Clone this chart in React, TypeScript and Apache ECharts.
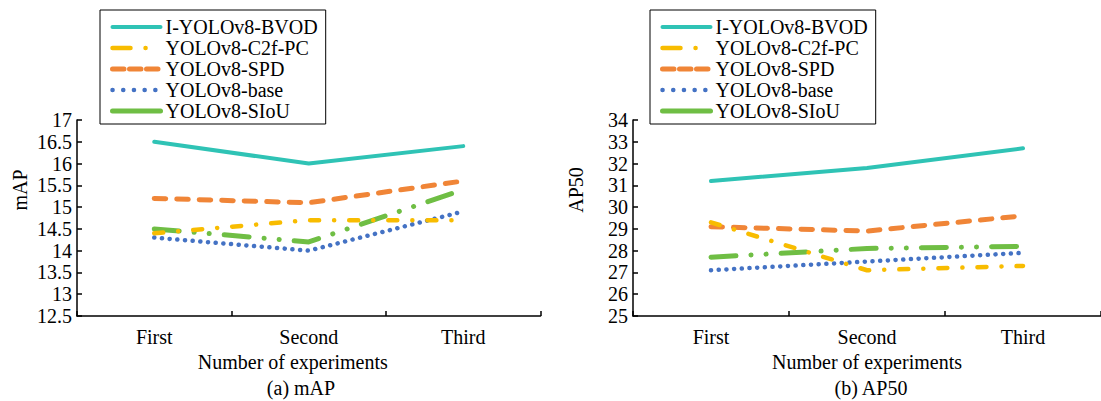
import React, { useEffect, useRef } from 'react';
import * as echarts from 'echarts';

const categories = ['First', 'Second', 'Third'];
const seriesNames = ['I-YOLOv8-BVOD', 'YOLOv8-C2f-PC', 'YOLOv8-SPD', 'YOLOv8-base', 'YOLOv8-SIoU'];

// (a) mAP
const mapBVOD = [16.5, 16.0, 16.4];
const mapC2fPC = [14.4, 14.7, 14.7];
const mapSPD = [15.2, 15.1, 15.6];
const mapBase = [14.3, 14.0, 14.9];
const mapSIoU = [14.5, 14.2, 15.4];

// (b) AP50
const ap50BVOD = [31.2, 31.8, 32.7];
const ap50C2fPC = [29.3, 27.1, 27.3];
const ap50SPD = [29.1, 28.9, 29.6];
const ap50Base = [27.1, 27.5, 27.9];
const ap50SIoU = [27.7, 28.1, 28.2];

const mapAxisMin = 12.5;
const mapAxisMax = 17;
const mapAxisStep = 0.5;
const ap50AxisMin = 25;
const ap50AxisMax = 34;
const ap50AxisStep = 1;

const xTitle = 'Number of experiments';
const captions = ['(a) mAP', '(b) AP50'];
const yTitles = ['mAP', 'AP50'];

const FONT = "'Liberation Serif', 'Times New Roman', serif";
const FS = 20;

const lineStyles: any[] = [
  { color: '#2FC3B5', width: 4, type: 'solid', legendType: 'solid' },
  { color: '#F8BC00', width: 4.5, type: [9, 15, 0.1, 15], legendType: [18, 15, 0.1, 100] },
  { color: '#F08537', width: 5, type: [11.5, 11], legendType: [11.5, 5.5] },
  { color: '#4472C4', width: 4.5, type: [0.1, 7.6], legendType: [0.1, 10.6] },
  { color: '#6FBE44', width: 5, type: [25, 15, 0.1, 15, 0.1, 15], legendType: 'solid' },
];

export default function App() {
  const ref = useRef<HTMLDivElement>(null);
  useEffect(() => {
    if (!ref.current) return;
    const chart = echarts.init(ref.current, null, { renderer: 'svg' });
    const mapData = [mapBVOD, mapC2fPC, mapSPD, mapBase, mapSIoU];
    const apData = [ap50BVOD, ap50C2fPC, ap50SPD, ap50Base, ap50SIoU];

    const axisCommon = {
      axisLine: { show: true, lineStyle: { color: '#000', width: 1.5 } },
      axisTick: { show: true, inside: true, length: 5, lineStyle: { color: '#000', width: 1.5 } },
      splitLine: { show: false },
    };

    const mkX = (gi: number, pad: number[]) => ({
      type: 'category',
      gridIndex: gi,
      data: categories,
      boundaryGap: true,
      ...axisCommon,
      axisLabel: { fontSize: FS, color: '#000', fontFamily: FONT, margin: 11 },
      name: xTitle,
      nameLocation: 'middle',
      nameGap: 36,
      nameTextStyle: { fontSize: FS, color: '#000', fontFamily: FONT, padding: pad },
    });

    const mkY = (gi: number, min: number, max: number, step: number, name: string) => ({
      type: 'value',
      gridIndex: gi,
      min,
      max,
      interval: step,
      ...axisCommon,
      axisLabel: { fontSize: FS, color: '#000', fontFamily: FONT, margin: 5 },
      name,
      nameLocation: 'middle',
      nameGap: 47,
      nameTextStyle: { fontSize: FS, color: '#000', fontFamily: FONT, padding: [0, 0, 0, 56] },
    });

    const mkSeries = (gi: number, data: number[][]) =>
      data.map((d, i) => ({
        type: 'line',
        name: seriesNames[i],
        xAxisIndex: gi,
        yAxisIndex: gi,
        data: d,
        symbol: 'none',
        showSymbol: false,
        lineStyle: {
          color: lineStyles[i].color,
          width: lineStyles[i].width,
          type: lineStyles[i].type,
          cap: 'round',
          join: 'round',
        },
        itemStyle: { color: lineStyles[i].color },
        z: 10 - i,
      }));

    const mkLegend = (left: number) => ({
      left,
      top: 10,
      orient: 'vertical',
      itemWidth: 48,
      itemHeight: 14,
      itemGap: 1,
      padding: [7, 8, 3, 10],
      borderColor: '#000',
      borderWidth: 1,
      backgroundColor: '#fff',
      textStyle: { fontFamily: FONT, fontSize: FS, color: '#000', lineHeight: 20 },
      selectedMode: false,
      data: seriesNames.map((n, i) => ({
        name: n,
        itemStyle: { opacity: 0 },
        lineStyle: {
          color: lineStyles[i].color,
          width: lineStyles[i].width,
          type: lineStyles[i].legendType ?? lineStyles[i].type,
          cap: 'round',
          opacity: 1,
        },
      })),
      z: 20,
    });

    chart.setOption({
      animation: false,
      backgroundColor: '#fff',
      grid: [
        { left: 77, top: 120, width: 463.5, height: 196 },
        { left: 633, top: 120, width: 474, height: 196 },
      ],
      xAxis: [mkX(0, [0, 32, 0, 0]), mkX(1, [0, 0, 0, 0])],
      yAxis: [
        mkY(0, mapAxisMin, mapAxisMax, mapAxisStep, yTitles[0]),
        mkY(1, ap50AxisMin, ap50AxisMax, ap50AxisStep, yTitles[1]),
      ],
      legend: [mkLegend(100), mkLegend(650)],
      series: [...mkSeries(0, mapData), ...mkSeries(1, apData)],
      graphic: [
        {
          type: 'text',
          x: 301,
          y: 388,
          style: { text: captions[0], font: `${FS}px ${FONT}`, fill: '#000', align: 'center', verticalAlign: 'middle' },
        },
        {
          type: 'text',
          x: 871,
          y: 388,
          style: { text: captions[1], font: `${FS}px ${FONT}`, fill: '#000', align: 'center', verticalAlign: 'middle' },
        },
      ],
    });
    return () => chart.dispose();
  }, []);
  return <div ref={ref} style={{ position: 'fixed', left: 0, top: 0, width: 1101, height: 401 }} />;
}
